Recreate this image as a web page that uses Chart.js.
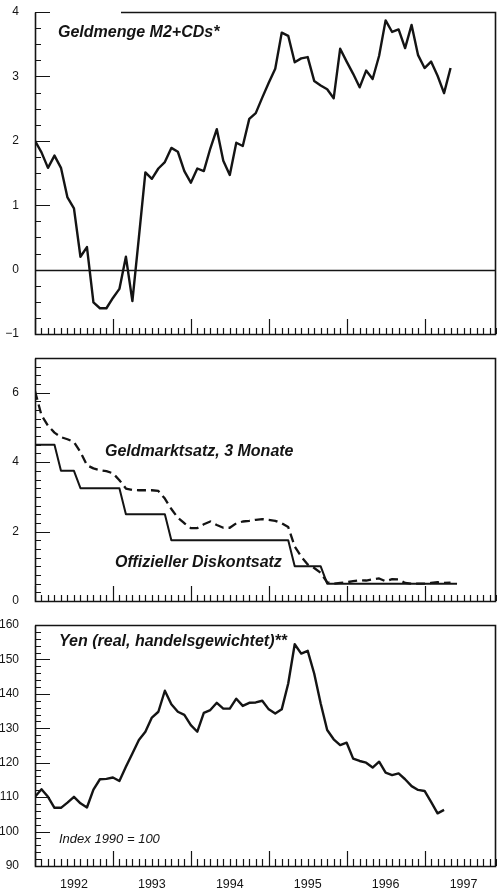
<!DOCTYPE html>
<html>
<head>
<meta charset="utf-8">
<script src="https://cdn.jsdelivr.net/npm/chart.js@4.4.1/dist/chart.umd.min.js"></script>
<style>
  html, body { margin: 0; padding: 0; background: #fff; }
  #wrap { position: relative; width: 497px; height: 892px; overflow: hidden; }
  #wrap canvas { position: absolute; left: 0; }
</style>
</head>
<body>
<div id="wrap">
  <canvas id="m2Chart" width="497" height="345" style="top:0px"></canvas>
  <canvas id="rateChart" width="497" height="268" style="top:345px"></canvas>
  <canvas id="yenChart" width="497" height="279" style="top:613px"></canvas>
</div>
<script>
// Monthly series, index 0 = January 1992
const yearLabels = ['1992', '1993', '1994', '1995', '1996', '1997'];

// Geldmenge M2+CDs*
const m2Values = [
  2.00, 1.82, 1.58, 1.77, 1.58, 1.12, 0.95, 0.20, 0.35, -0.51,
  -0.60, -0.60, -0.44, -0.30, 0.20, -0.49, 0.50, 1.51, 1.41, 1.57,
  1.67, 1.89, 1.83, 1.53, 1.35, 1.57, 1.53, 1.88, 2.18, 1.69,
  1.47, 1.97, 1.92, 2.34, 2.43, 2.67, 2.90, 3.12, 3.68, 3.63,
  3.22, 3.28, 3.30, 2.93, 2.86, 2.80, 2.66, 3.43, 3.23, 3.04,
  2.83, 3.09, 2.96, 3.32, 3.87, 3.69, 3.73, 3.44, 3.80, 3.33,
  3.13, 3.23, 3.01, 2.74, 3.13
];
const m2Ticks = [4, 3, 2, 1, 0, -1];

// Offizieller Diskontsatz
const discountRate = [
  4.5, 4.5, 4.5, 4.5, 3.75, 3.75, 3.75, 3.25, 3.25, 3.25,
  3.25, 3.25, 3.25, 3.25, 2.5, 2.5, 2.5, 2.5, 2.5, 2.5,
  2.5, 1.75, 1.75, 1.75, 1.75, 1.75, 1.75, 1.75, 1.75, 1.75,
  1.75, 1.75, 1.75, 1.75, 1.75, 1.75, 1.75, 1.75, 1.75, 1.75,
  1.0, 1.0, 1.0, 1.0, 1.0, 0.5, 0.5, 0.5, 0.5, 0.5,
  0.5, 0.5, 0.5, 0.5, 0.5, 0.5, 0.5, 0.5, 0.5, 0.5,
  0.5, 0.5, 0.5, 0.5, 0.5, 0.5
];
// Geldmarktsatz, 3 Monate
const moneyMarketRate = [
  6.05, 5.35, 5.05, 4.85, 4.72, 4.66, 4.58, 4.29, 3.91, 3.82,
  3.77, 3.74, 3.68, 3.48, 3.24, 3.20, 3.19, 3.19, 3.19, 3.17,
  2.95, 2.65, 2.40, 2.24, 2.10, 2.10, 2.21, 2.29, 2.19, 2.11,
  2.11, 2.24, 2.29, 2.31, 2.34, 2.36, 2.34, 2.31, 2.24, 2.13,
  1.57, 1.28, 1.05, 0.95, 0.81, 0.54, 0.50, 0.52, 0.54, 0.57,
  0.60, 0.59, 0.62, 0.65, 0.57, 0.63, 0.62, 0.52, 0.50, 0.50,
  0.50, 0.52, 0.54, 0.52, 0.53
];
const rateTicks = [6, 4, 2, 0];

// Yen (real, handelsgewichtet), Index 1990 = 100
const yenIndex = [
  110.1, 112.3, 110.1, 106.9, 106.9, 108.4, 110.1, 108.2, 107.0, 112.2,
  115.2, 115.3, 115.7, 114.7, 118.8, 122.7, 126.6, 129.0, 133.1, 134.8,
  140.9, 137.0, 134.8, 133.9, 130.9, 129.0, 134.5, 135.3, 137.4, 135.7,
  135.7, 138.6, 136.5, 137.4, 137.5, 138.0, 135.5, 134.3, 135.5, 143.0,
  154.4, 151.7, 152.5, 145.9, 137.2, 129.5, 126.8, 125.1, 125.8, 121.2,
  120.5, 120.0, 118.6, 120.3, 117.1, 116.4, 116.9, 115.2, 113.2, 112.1,
  111.8, 108.6, 105.3, 106.3
];
const yenTicks = [160, 150, 140, 130, 120, 110, 100, 90];

const INK = '#141414';
const MONTHS_SHOWN = 71;
const TITLE_FONT = 'italic bold 16px "Liberation Sans", Arial, sans-serif';

Chart.defaults.font.family = '"Liberation Sans", Arial, sans-serif';
Chart.defaults.color = INK;
Chart.defaults.animation = false;

const toPoints = arr => arr.map((v, i) => ({ x: i, y: v }));

// Frame, inward tick marks, zero line and panel captions
const panelFrame = {
  id: 'panelFrame',
  beforeDatasetsDraw(chart, args, o) {
    const { ctx, chartArea: a, scales: { x, y } } = chart;
    ctx.save();
    ctx.strokeStyle = INK;
    ctx.lineWidth = 1.2;
    ctx.beginPath();
    const nMinor = Math.round((y.max - y.min) / o.yMinor);
    for (let k = 0; k <= nMinor; k++) {
      const v = y.min + k * o.yMinor;
      const r = v / o.yMajor;
      const major = Math.abs(r - Math.round(r)) < 1e-6;
      const py = Math.round(y.getPixelForValue(v)) + 0.5;
      ctx.moveTo(a.left, py);
      ctx.lineTo(a.left + (major ? 15 : 6), py);
    }
    for (let m = 0; m <= MONTHS_SHOWN; m++) {
      const px = Math.round(x.getPixelForValue(m)) + 0.5;
      const major = m % 12 === 0;
      ctx.moveTo(px, a.bottom);
      ctx.lineTo(px, a.bottom - (major ? 15 : o.xMinorLen));
    }
    ctx.stroke();

    if (o.zeroLine) {
      const pz = Math.round(y.getPixelForValue(0)) + 0.5;
      ctx.lineWidth = 1.4;
      ctx.beginPath();
      ctx.moveTo(a.left, pz);
      ctx.lineTo(a.right, pz);
      ctx.stroke();
    }

    ctx.lineWidth = 1.6;
    ctx.beginPath();
    ctx.moveTo(a.left + (o.topGap || 0), a.top + 0.5);
    ctx.lineTo(a.right - 0.5, a.top + 0.5);
    ctx.lineTo(a.right - 0.5, a.bottom + 0.5);
    ctx.lineTo(a.left + 0.5, a.bottom + 0.5);
    ctx.lineTo(a.left + 0.5, a.top + 0.5);
    ctx.stroke();

    ctx.fillStyle = INK;
    ctx.textBaseline = 'alphabetic';
    ctx.textAlign = 'left';
    for (const n of o.notes) {
      ctx.font = n.font;
      ctx.fillText(n.text, n.x, n.y);
    }
    ctx.restore();
  }
};

function makeChart(id, cfg) {
  const tickVals = cfg.ticks;
  return new Chart(document.getElementById(id), {
    type: 'line',
    data: { datasets: cfg.datasets },
    options: {
      responsive: false,
      devicePixelRatio: 1,
      layout: { padding: { top: cfg.padTop, bottom: cfg.padBottom, left: 0, right: 1 } },
      elements: { point: { radius: 0 }, line: { tension: 0, borderJoinStyle: 'round', borderCapStyle: 'butt' } },
      plugins: {
        legend: { display: false },
        tooltip: { enabled: false },
        panelFrame: cfg.frame
      },
      scales: {
        x: {
          type: 'linear',
          min: 0,
          max: MONTHS_SHOWN,
          display: cfg.showYears,
          grid: { display: false, drawTicks: false },
          border: { display: false },
          afterBuildTicks: s => { s.ticks = yearLabels.map((_, k) => ({ value: k * 12 + 6 })); },
          afterFit: s => {
            s.height = cfg.showYears ? 26 : 0;
            s.paddingLeft = 0; s.paddingRight = 0;
          },
          ticks: {
            autoSkip: false,
            maxRotation: 0,
            padding: 11,
            font: { size: 12.5 },
            callback: v => yearLabels[Math.round((v - 6) / 12)]
          }
        },
        y: {
          type: 'linear',
          min: cfg.min,
          max: cfg.max,
          grid: { display: false, drawTicks: false },
          border: { display: false },
          afterBuildTicks: s => { s.ticks = tickVals.map(v => ({ value: v })); },
          afterFit: s => {
            s.width = 35;
            s.paddingTop = 0; s.paddingBottom = 0;
          },
          ticks: {
            padding: 16,
            font: { size: 12 },
            callback: v => (v < 0 ? '\u2212' + Math.abs(v) : String(v))
          }
        }
      }
    },
    plugins: [panelFrame]
  });
}

makeChart('m2Chart', {
  min: -1, max: 4, ticks: m2Ticks, padTop: 12, padBottom: 11, showYears: false,
  datasets: [{ data: toPoints(m2Values), borderColor: INK, borderWidth: 2.4 }],
  frame: {
    yMajor: 1, yMinor: 0.25, xMinorLen: 6, zeroLine: true, topGap: 86,
    notes: [{ text: 'Geldmenge M2+CDs*', x: 58, y: 36.5, font: TITLE_FONT }]
  }
});

makeChart('rateChart', {
  min: 0, max: 7, ticks: rateTicks, padTop: 13, padBottom: 12, showYears: false,
  datasets: [
    { data: toPoints(discountRate), borderColor: INK, borderWidth: 2.0 },
    { data: toPoints(moneyMarketRate), borderColor: INK, borderWidth: 2.3, borderDash: [9, 5] }
  ],
  frame: {
    yMajor: 2, yMinor: 0.25, xMinorLen: 6,
    notes: [
      { text: 'Geldmarktsatz, 3 Monate', x: 105, y: 111, font: TITLE_FONT },
      { text: 'Offizieller Diskontsatz', x: 115, y: 222, font: TITLE_FONT }
    ]
  }
});

makeChart('yenChart', {
  min: 90, max: 160, ticks: yenTicks, padTop: 12, padBottom: 0, showYears: true,
  datasets: [{ data: toPoints(yenIndex), borderColor: INK, borderWidth: 2.4 }],
  frame: {
    yMajor: 10, yMinor: 2, xMinorLen: 7,
    notes: [
      { text: 'Yen (real, handelsgewichtet)**', x: 59, y: 33, font: TITLE_FONT },
      { text: 'Index 1990 = 100', x: 59, y: 230, font: 'italic 13px "Liberation Sans", Arial, sans-serif' }
    ]
  }
});
</script>
</body>
</html>
